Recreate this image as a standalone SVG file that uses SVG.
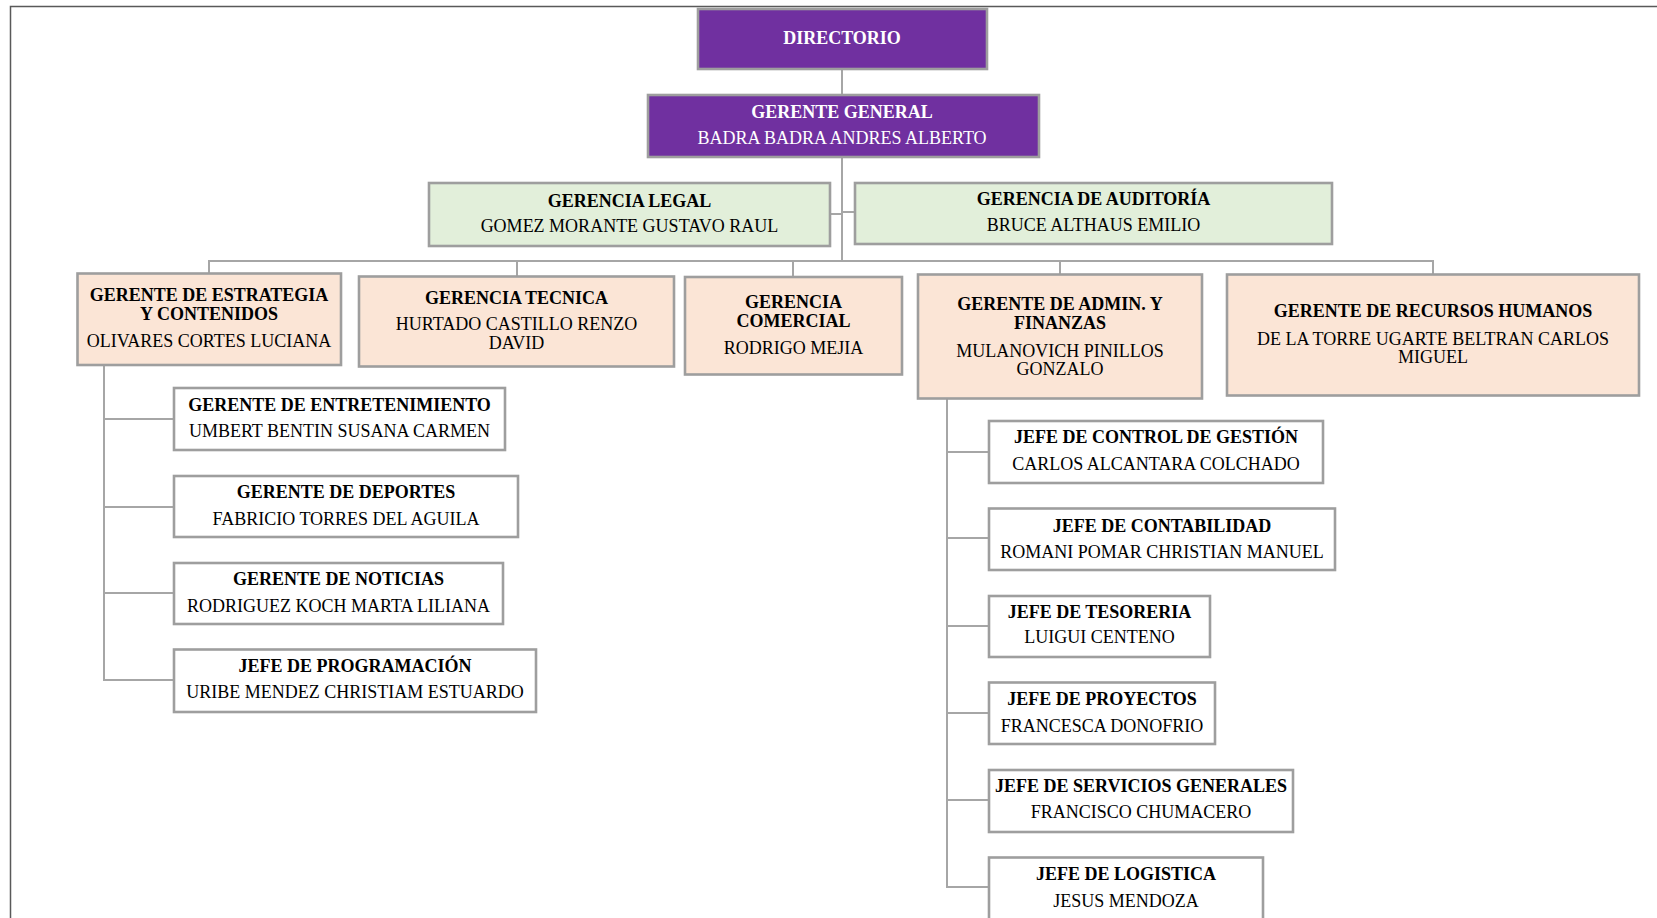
<svg xmlns="http://www.w3.org/2000/svg" width="1657" height="918" viewBox="0 0 1657 918">
<style>
text{font-family:"Liberation Serif","Times New Roman",serif;font-size:18px;text-anchor:middle;fill:#000}
.t{font-weight:bold}
.w{fill:#fff}
.box{stroke:#9E9E9E;stroke-width:2.6}
.p{fill:#7030A0}
.g{fill:#E2EFDA}
.o{fill:#FBE5D6}
.n{fill:#fff}
.c{stroke:#A6A6A6;stroke-width:2;fill:none}
.frame{stroke:#595959;stroke-width:1.5;fill:none}
</style>
<rect width="1657" height="918" fill="#fff"/>
<path class="frame" d="M10.5,918 V6.5 H1657"/>
<g id="connectors">
<path class="c" d="M842,70 V95"/>
<path class="c" d="M842,157 V261"/>
<path class="c" d="M830,214 H842 M842,212 H855"/>
<path class="c" d="M209,273 V261 H1433 V275"/>
<path class="c" d="M517,261 V276 M793,261 V277 M1060,261 V274"/>
<path class="c" d="M104,365 V680 H174 M104,419 H174 M104,507 H174 M104,593 H174"/>
<path class="c" d="M947,399 V887 H989 M947,452 H989 M947,538 H989 M947,626 H989 M947,713 H989 M947,800 H989"/>
</g>
<g id="directorio"><rect class="box p" x="698" y="9" width="289" height="60"/><text class="t w" x="842" y="44">DIRECTORIO</text></g>
<g id="gerente-general"><rect class="box p" x="648" y="95" width="391" height="62"/><text class="t w" x="842" y="118">GERENTE GENERAL</text><text class="w" x="842" y="144">BADRA BADRA ANDRES ALBERTO</text></g>
<g id="gerencia-legal"><rect class="box g" x="429" y="183" width="401" height="63"/><text class="t" x="629.5" y="207">GERENCIA LEGAL</text><text x="629.5" y="232">GOMEZ MORANTE GUSTAVO RAUL</text></g>
<g id="gerencia-auditoria"><rect class="box g" x="855" y="183" width="477" height="61"/><text class="t" x="1093.5" y="205">GERENCIA DE AUDITORÍA</text><text x="1093.5" y="231">BRUCE ALTHAUS EMILIO</text></g>
<g id="estrategia"><rect class="box o" x="77.5" y="273.5" width="263.5" height="91.5"/><text class="t" x="209" y="301">GERENTE DE ESTRATEGIA</text><text class="t" x="209" y="320">Y CONTENIDOS</text><text x="209" y="347">OLIVARES CORTES LUCIANA</text></g>
<g id="tecnica"><rect class="box o" x="359" y="276.5" width="315" height="90"/><text class="t" x="516.5" y="304">GERENCIA TECNICA</text><text x="516.5" y="330">HURTADO CASTILLO RENZO</text><text x="516.5" y="349">DAVID</text></g>
<g id="comercial"><rect class="box o" x="685" y="277" width="217" height="97.5"/><text class="t" x="793.5" y="308">GERENCIA</text><text class="t" x="793.5" y="327">COMERCIAL</text><text x="793.5" y="354">RODRIGO MEJIA</text></g>
<g id="admin"><rect class="box o" x="918" y="274.5" width="284" height="124"/><text class="t" x="1060" y="310">GERENTE DE ADMIN. Y</text><text class="t" x="1060" y="329">FINANZAS</text><text x="1060" y="357">MULANOVICH PINILLOS</text><text x="1060" y="375">GONZALO</text></g>
<g id="rrhh"><rect class="box o" x="1227" y="274.5" width="412" height="121"/><text class="t" x="1433" y="317">GERENTE DE RECURSOS HUMANOS</text><text x="1433" y="345">DE LA TORRE UGARTE BELTRAN CARLOS</text><text x="1433" y="363">MIGUEL</text></g>
<g id="entretenimiento"><rect class="box n" x="174" y="388" width="331" height="62"/><text class="t" x="339.5" y="411">GERENTE DE ENTRETENIMIENTO</text><text x="339.5" y="437">UMBERT BENTIN SUSANA CARMEN</text></g>
<g id="deportes"><rect class="box n" x="174" y="476" width="344" height="61"/><text class="t" x="346" y="498">GERENTE DE DEPORTES</text><text x="346" y="525">FABRICIO TORRES DEL AGUILA</text></g>
<g id="noticias"><rect class="box n" x="174" y="563" width="329" height="61"/><text class="t" x="338.5" y="585">GERENTE DE NOTICIAS</text><text x="338.5" y="612">RODRIGUEZ KOCH MARTA LILIANA</text></g>
<g id="programacion"><rect class="box n" x="174" y="649.5" width="362" height="62.5"/><text class="t" x="355" y="672">JEFE DE PROGRAMACIÓN</text><text x="355" y="698">URIBE MENDEZ CHRISTIAM ESTUARDO</text></g>
<g id="control"><rect class="box n" x="989" y="421" width="334" height="62"/><text class="t" x="1156" y="443">JEFE DE CONTROL DE GESTIÓN</text><text x="1156" y="470">CARLOS ALCANTARA COLCHADO</text></g>
<g id="contabilidad"><rect class="box n" x="989" y="508.5" width="346" height="61.5"/><text class="t" x="1162" y="532">JEFE DE CONTABILIDAD</text><text x="1162" y="558">ROMANI POMAR CHRISTIAN MANUEL</text></g>
<g id="tesoreria"><rect class="box n" x="989" y="596" width="221" height="61"/><text class="t" x="1099.5" y="618">JEFE DE TESORERIA</text><text x="1099.5" y="643">LUIGUI CENTENO</text></g>
<g id="proyectos"><rect class="box n" x="989" y="682.5" width="226" height="61.5"/><text class="t" x="1102" y="705">JEFE DE PROYECTOS</text><text x="1102" y="732">FRANCESCA DONOFRIO</text></g>
<g id="servicios"><rect class="box n" x="989" y="770" width="304" height="62"/><text class="t" x="1141" y="792">JEFE DE SERVICIOS GENERALES</text><text x="1141" y="818">FRANCISCO CHUMACERO</text></g>
<g id="logistica"><rect class="box n" x="989" y="857.5" width="274" height="90"/><text class="t" x="1126" y="880">JEFE DE LOGISTICA</text><text x="1126" y="907">JESUS MENDOZA</text></g>
</svg>
